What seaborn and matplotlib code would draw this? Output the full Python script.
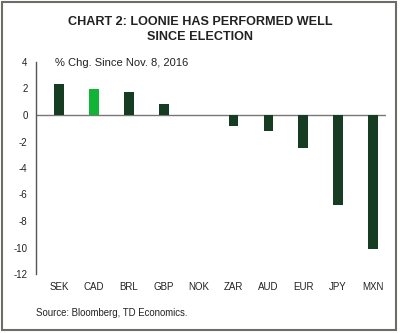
import matplotlib
matplotlib.use("Agg")
import matplotlib.pyplot as plt
import seaborn as sns
import pandas as pd
from matplotlib.patches import Rectangle

currencies = ["SEK", "CAD", "BRL", "GBP", "NOK", "ZAR", "AUD", "EUR", "JPY", "MXN"]
pct_change = [2.35, 1.95, 1.7, 0.8, 0.0, -0.85, -1.2, -2.5, -6.8, -10.1]
highlight = "CAD"
yticks = [4, 2, 0, -2, -4, -6, -8, -10, -12]

dark = "#163d22"
bright = "#10b535"

sns.set_theme(style="white")
plt.rcParams["font.family"] = ["Liberation Sans", "DejaVu Sans"]

df = pd.DataFrame({"cur": currencies, "val": pct_change})
palette = {c: (bright if c == highlight else dark) for c in currencies}

fig = plt.figure(figsize=(4.0, 3.33), dpi=100)
ax = fig.add_axes([36/400, 1 - 274/333, (386-36)/400, (274-62)/333])

sns.barplot(data=df, x="cur", y="val", hue="cur", palette=palette, dodge=False,
            legend=False, width=0.28, ax=ax, saturation=1, linewidth=0)

ax.set_xlim(-0.66, 9.37)
ax.set_ylim(-12, 4)
ax.set_yticks(yticks)
ax.set_yticklabels([str(t) for t in yticks], fontsize=7, color="#222222")
ax.tick_params(axis="y", length=0, pad=6)
ax.tick_params(axis="x", length=0, pad=6, labelsize=7, colors="#222222")
ax.set_xlabel("")
ax.set_ylabel("")

for s in ["top", "right", "bottom"]:
    ax.spines[s].set_visible(False)
ax.spines["left"].set_color("#555555")
ax.spines["left"].set_linewidth(1.0)
ax.axhline(0, color="#777777", linewidth=1.0, zorder=0.5)

fig.text(0.5, 1 - 22/333, "CHART 2: LOONIE HAS PERFORMED WELL", ha="center", va="center",
         fontsize=9.1, fontweight="bold", color="#222222")
fig.text(0.5, 1 - 37/333, "SINCE ELECTION", ha="center", va="center",
         fontsize=9.1, fontweight="bold", color="#222222")
fig.text(55/400, 1 - 63/333, "% Chg. Since Nov. 8, 2016", ha="left", va="center",
         fontsize=8, color="#222222")
fig.text(36/400, 1 - 313/333, "Source: Bloomberg, TD Economics.", ha="left", va="center",
         fontsize=6.9, color="#222222")

fig.patches.append(Rectangle((2/400, 3/333), 394/400, 328/333, transform=fig.transFigure,
                             fill=False, edgecolor="#6b6e66", linewidth=1.5))

fig.savefig("out.png", dpi=100, facecolor="white")
